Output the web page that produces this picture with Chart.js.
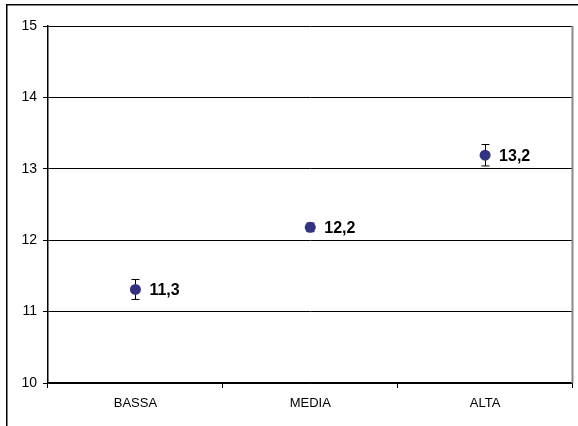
<!DOCTYPE html>
<html>
<head>
<meta charset="utf-8">
<script src="https://cdn.jsdelivr.net/npm/chart.js@4.4.1/dist/chart.umd.min.js"></script>
<style>
  html, body { margin: 0; padding: 0; background: #fff; }
  #wrap { width: 578px; height: 426px; }
</style>
</head>
<body>
<div id="wrap"><canvas id="chart" width="578" height="426"></canvas></div>
<script>
const categories = ['BASSA', 'MEDIA', 'ALTA'];
const values = [11.31, 12.18, 13.19];
const errors = [0.14, 0.06, 0.15];
const valueLabels = ['11,3', '12,2', '13,2'];
const yTicks = [10, 11, 12, 13, 14, 15];

const POINT_COLOR = '#333380';

// cornice esterna e bordo destro dell'area grafico
const framePlugin = {
    id: 'frame',
    beforeDraw(chart) {
        const ctx = chart.ctx;
        ctx.save();
        ctx.fillStyle = '#fff';
        ctx.fillRect(0, 0, chart.width, chart.height);
        ctx.strokeStyle = '#000';
        ctx.lineWidth = 1.5;
        ctx.strokeRect(6.75, 4.75, 700, 600);
        ctx.restore();
    },
    afterDraw(chart) {
        const { ctx, chartArea } = chart;
        ctx.save();
        ctx.strokeStyle = '#888';
        ctx.lineWidth = 2;
        ctx.beginPath();
        ctx.moveTo(chartArea.right, chartArea.top);
        ctx.lineTo(chartArea.right, chartArea.bottom);
        ctx.stroke();
        ctx.restore();
    }
};

// barre d'errore ed etichette dei valori
const errorBarPlugin = {
    id: 'errorBars',
    beforeDatasetsDraw(chart) {
        const ctx = chart.ctx;
        const y = chart.scales.y;
        const meta = chart.getDatasetMeta(0);
        ctx.save();
        ctx.strokeStyle = '#000';
        ctx.lineWidth = 1;
        meta.data.forEach((pt, i) => {
            const x = Math.round(pt.x) + 0.5;
            const top = y.getPixelForValue(values[i] + errors[i]);
            const bot = y.getPixelForValue(values[i] - errors[i]);
            ctx.beginPath();
            ctx.moveTo(x, top); ctx.lineTo(x, bot);
            ctx.moveTo(x - 4, top); ctx.lineTo(x + 4, top);
            ctx.moveTo(x - 4, bot); ctx.lineTo(x + 4, bot);
            ctx.stroke();
        });
        ctx.restore();
    },
    afterDatasetsDraw(chart) {
        const ctx = chart.ctx;
        const meta = chart.getDatasetMeta(0);
        ctx.save();
        ctx.fillStyle = '#000';
        ctx.font = 'bold 16px "Liberation Sans", Arial, sans-serif';
        ctx.textBaseline = 'middle';
        ctx.textAlign = 'left';
        meta.data.forEach((pt, i) => {
            ctx.fillText(valueLabels[i], pt.x + 14, pt.y + 1);
        });
        ctx.restore();
    }
};

new Chart(document.getElementById('chart'), {
    type: 'line',
    data: {
        labels: categories,
        datasets: [{
            data: values,
            showLine: false,
            pointRadius: 5.5,
            pointHoverRadius: 5.5,
            pointBackgroundColor: POINT_COLOR,
            pointBorderColor: POINT_COLOR,
            pointBorderWidth: 0
        }]
    },
    options: {
        responsive: false,
        animation: false,
        events: [],
        layout: { padding: { left: 0, top: 26, right: 3, bottom: 0 } },
        plugins: {
            legend: { display: false },
            tooltip: { enabled: false }
        },
        scales: {
            x: {
                type: 'category',
                offset: true,
                afterFit(scale) { scale.height = 43; },
                grid: {
                    offset: true,
                    drawOnChartArea: false,
                    drawTicks: true,
                    tickLength: 5,
                    color: '#000'
                },
                border: { color: '#000', width: 1.5 },
                ticks: {
                    color: '#000',
                    padding: 8,
                    maxRotation: 0,
                    font: { family: '"Liberation Sans", Arial, sans-serif', size: 13 }
                }
            },
            y: {
                min: yTicks[0],
                max: yTicks[yTicks.length - 1],
                afterFit(scale) { scale.width = 48; },
                afterBuildTicks(scale) { scale.ticks = yTicks.map(v => ({ value: v })); },
                grid: {
                    color: '#000',
                    lineWidth: 1,
                    tickLength: 5
                },
                border: { color: '#000', width: 1.5 },
                ticks: {
                    color: '#000',
                    padding: 6,
                    font: { family: '"Liberation Sans", Arial, sans-serif', size: 14 }
                }
            }
        }
    },
    plugins: [framePlugin, errorBarPlugin]
});
</script>
</body>
</html>
